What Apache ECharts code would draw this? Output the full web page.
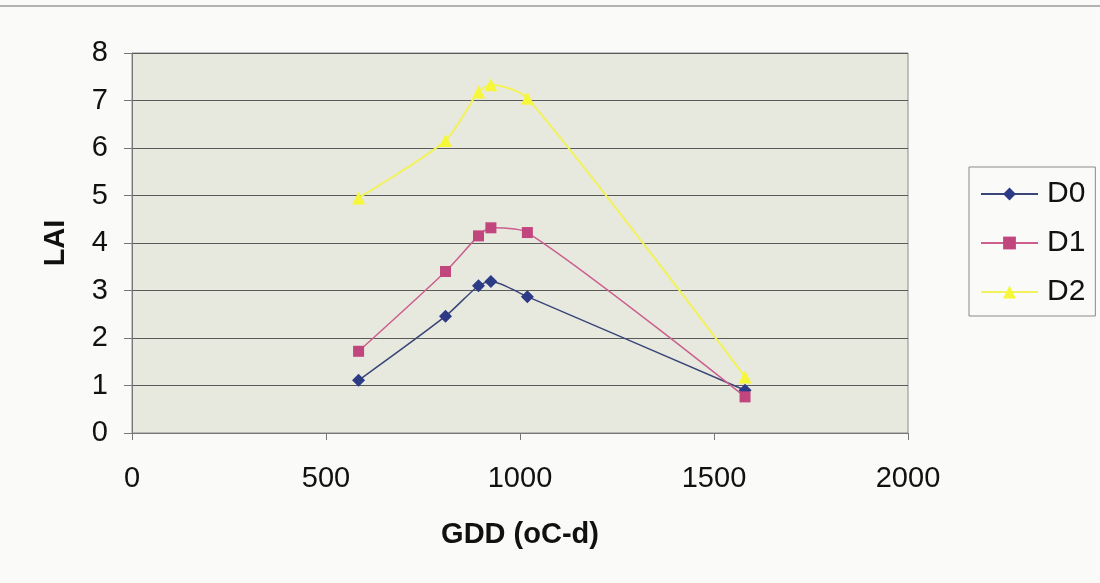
<!DOCTYPE html>
<html>
<head>
<meta charset="utf-8">
<script src="https://cdn.jsdelivr.net/npm/echarts@6/dist/echarts.min.js"></script>
<style>
  html, body { margin: 0; padding: 0; background: #fafaf8; }
  #chart { width: 1100px; height: 583px; }
</style>
</head>
<body>
<div id="chart"></div>
<script>
// GDD (oC-d) sampling points, shared by all series
const gdd = [584, 808, 893, 925, 1019, 1580]
const laiD0 = [1.11, 2.46, 3.10, 3.19, 2.87, 0.90]
const laiD1 = [1.72, 3.40, 4.15, 4.32, 4.22, 0.76]
const laiD2 = [4.95, 6.16, 7.18, 7.33, 7.05, 1.18]
const seriesNames = ['D0', 'D1', 'D2']
const xTicks = [0, 500, 1000, 1500, 2000]
const yTicks = [0, 1, 2, 3, 4, 5, 6, 7, 8]

const font = 'Arial, "Liberation Sans", sans-serif'
const pairs = (ys) => gdd.map((x, i) => [x, ys[i]])

const chart = echarts.init(document.getElementById('chart'))

const option = {
  backgroundColor: '#fafaf8',
  animation: false,
  textStyle: { fontFamily: font },
  graphic: [
    { type: 'line', shape: { x1: 0, y1: 6, x2: 1100, y2: 6 }, style: { stroke: '#9a9a9a', lineWidth: 1.5 } }
  ],
  grid: {
    left: 132,
    right: 192,
    top: 53,
    bottom: 150,
    show: true,
    backgroundColor: '#e7e9df',
    borderColor: '#8a8a8a',
    borderWidth: 1
  },
  legend: {
    orient: 'vertical',
    left: 969,
    top: 167,
    data: seriesNames,
    backgroundColor: '#fafaf8',
    borderColor: '#8a8a8a',
    borderWidth: 1,
    borderRadius: 0,
    padding: [12, 10, 9, 11],
    itemWidth: 57,
    itemHeight: 16,
    itemGap: 19,
    textStyle: { fontSize: 30, color: '#111', fontFamily: font, lineHeight: 29, padding: [0, 0, 0, 4] }
  },
  xAxis: {
    type: 'value',
    min: xTicks[0],
    max: xTicks[xTicks.length - 1],
    interval: 500,
    name: 'GDD (oC-d)',
    nameLocation: 'middle',
    nameGap: 87,
    nameTextStyle: { fontSize: 29, fontWeight: 'bold', color: '#111', fontFamily: font },
    axisLine: { show: true, lineStyle: { color: '#777', width: 1 } },
    axisTick: { show: true, inside: false, length: 7, lineStyle: { color: '#777' } },
    axisLabel: { fontSize: 29, color: '#111', margin: 31, fontFamily: font, formatter: (v) => String(v) },
    splitLine: { show: false }
  },
  yAxis: {
    type: 'value',
    min: yTicks[0],
    max: yTicks[yTicks.length - 1],
    interval: 1,
    name: 'LAI',
    nameLocation: 'middle',
    nameGap: 62,
    nameTextStyle: { fontSize: 29, fontWeight: 'bold', color: '#111', fontFamily: font },
    axisLine: { show: true, lineStyle: { color: '#777', width: 1 } },
    axisTick: { show: true, inside: false, length: 8, lineStyle: { color: '#777' } },
    axisLabel: { fontSize: 29, color: '#111', margin: 24, fontFamily: font },
    splitLine: { show: true, lineStyle: { color: '#5a5a5a', width: 1 } }
  },
  series: [
    {
      name: seriesNames[0],
      type: 'line',
      data: pairs(laiD0),
      smooth: 0.25,
      symbol: 'diamond',
      symbolSize: 13,
      lineStyle: { color: '#3a4578', width: 1.5 },
      itemStyle: { color: '#2d3a86' }
    },
    {
      name: seriesNames[1],
      type: 'line',
      data: pairs(laiD1),
      smooth: 0.25,
      symbol: 'rect',
      symbolSize: 11,
      lineStyle: { color: '#cc5f8e', width: 1.5 },
      itemStyle: { color: '#c2467e' }
    },
    {
      name: seriesNames[2],
      type: 'line',
      data: pairs(laiD2),
      smooth: 0.25,
      symbol: 'triangle',
      symbolSize: 13,
      lineStyle: { color: '#f2f25a', width: 2 },
      itemStyle: { color: '#f7f73a' }
    }
  ]
}

chart.setOption(option)
window.addEventListener('resize', () => chart.resize())
</script>
</body>
</html>
